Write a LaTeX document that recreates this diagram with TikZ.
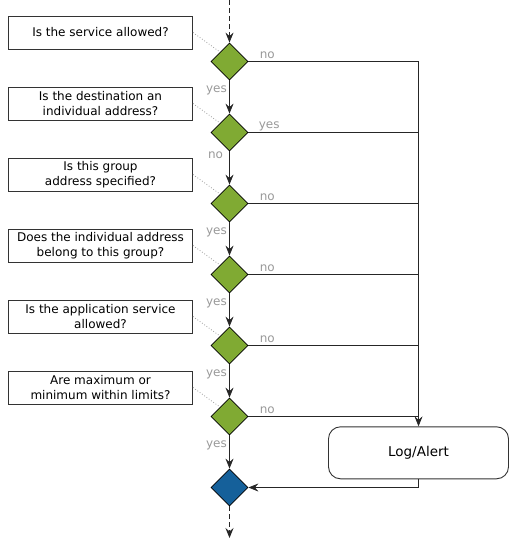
\documentclass[tikz,border=0pt]{standalone}
\usepackage{fontspec}
\setmainfont{DejaVu Sans}
\usetikzlibrary{shapes.geometric,arrows.meta,calc}
\definecolor{dgreen}{HTML}{80AA33}
\definecolor{dblue}{HTML}{15609A}
\definecolor{lblgray}{HTML}{999999}
\definecolor{boxline}{HTML}{333333}
\begin{document}
\begin{tikzpicture}[x=1bp,y=-1bp,
  dec/.style={diamond, draw=black, line width=0.8bp, fill=dgreen, minimum width=37bp, minimum height=37bp, inner sep=0pt, aspect=1},
  qbox/.style={rectangle, draw=boxline, line width=0.9bp, minimum width=184bp, minimum height=33bp, inner sep=1bp, align=center, font=\fontsize{12bp}{14.7bp}\selectfont},
  logbox/.style={rectangle, rounded corners=12bp, draw=boxline, line width=0.9bp, minimum width=180bp, minimum height=52bp, font=\fontsize{13.5bp}{16bp}\selectfont},
  conn/.style={draw=black!85, line width=0.8bp},
  arr/.style={conn, -{Stealth[length=10bp,width=8bp,inset=3.5bp]}},
  darr/.style={arr, dash pattern=on 5bp off 3bp},
  dotline/.style={draw=lblgray, line width=0.8bp, dotted},
  lbl/.style={text=lblgray, inner sep=0pt, font=\fontsize{12bp}{14bp}\selectfont}
]
\useasboundingbox (0,0) rectangle (509,539);
% decisions
\node[dec] (d1) at (229.5,61.5) {};
\node[dec] (d2) at (229.5,132.5) {};
\node[dec] (d3) at (229.5,203.5) {};
\node[dec] (d4) at (229.5,274.5) {};
\node[dec] (d5) at (229.5,345.5) {};
\node[dec] (d6) at (229.5,416.5) {};
\node[dec, fill=dblue] (d7) at (229.5,487.5) {};
% questions
\node[qbox] (q1) at (100.5,32.5) {Is the service allowed?};
\node[qbox] (q2) at (100.5,103.5) {Is the destination an\\individual address?};
\node[qbox] (q3) at (100.5,174.5) {Is this group\\address specified?};
\node[qbox] (q4) at (100.5,245.5) {Does the individual address\\belong to this group?};
\node[qbox] (q5) at (100.5,316.5) {Is the application service\\allowed?};
\node[qbox] (q6) at (100.5,387.5) {Are maximum or\\minimum within limits?};
% log
\node[logbox] (log) at (418.5,452.8) {Log/Alert};
% coordinates
\coordinate (top) at (229.5,0);
\coordinate (bot) at (229.5,538);
\coordinate (r1) at (418.5,61.5);
\coordinate (r2) at (418.5,132.5);
\coordinate (r3) at (418.5,203.5);
\coordinate (r4) at (418.5,274.5);
\coordinate (r5) at (418.5,345.5);
\coordinate (r6) at (418.5,416.5);
% dotted links
\draw[dotline] (q1.east) -- (d1.north west);
\draw[dotline] (q2.east) -- (d2.north west);
\draw[dotline] (q3.east) -- (d3.north west);
\draw[dotline] (q4.east) -- (d4.north west);
\draw[dotline] (q5.east) -- (d5.north west);
\draw[dotline] (q6.east) -- (d6.north west);
% main flow
\draw[darr] (top) -- (d1.north);
\draw[arr] (d1.south) -- node[lbl, pos=0, anchor=base, xshift=-13bp, yshift=-12.5bp] (ly1) {yes} (d2.north);
\draw[arr] (d2.south) -- node[lbl, pos=0, anchor=base, xshift=-14bp, yshift=-7.5bp] (ly2) {no} (d3.north);
\draw[arr] (d3.south) -- node[lbl, pos=0, anchor=base, xshift=-13bp, yshift=-12bp] (ly3) {yes} (d4.north);
\draw[arr] (d4.south) -- node[lbl, pos=0, anchor=base, xshift=-13bp, yshift=-12bp] (ly4) {yes} (d5.north);
\draw[arr] (d5.south) -- node[lbl, pos=0, anchor=base, xshift=-13bp, yshift=-12bp] (ly5) {yes} (d6.north);
\draw[arr] (d6.south) -- node[lbl, pos=0, anchor=base, xshift=-13bp, yshift=-12bp] (ly6) {yes} (d7.north);
\draw[darr] (d7.south) -- (bot);
% exits
\draw[conn] (d1.east) -- node[lbl, pos=0, anchor=base west, xshift=11bp, yshift=3bp] (ln1) {no} (r1);
\draw[conn] (d2.east) -- node[lbl, pos=0, anchor=base west, xshift=10bp, yshift=4bp] (ln2) {yes} (r2);
\draw[conn] (d3.east) -- node[lbl, pos=0, anchor=base west, xshift=11bp, yshift=3bp] (ln3) {no} (r3);
\draw[conn] (d4.east) -- node[lbl, pos=0, anchor=base west, xshift=11bp, yshift=3bp] (ln4) {no} (r4);
\draw[conn] (d5.east) -- node[lbl, pos=0, anchor=base west, xshift=11bp, yshift=3bp] (ln5) {no} (r5);
\draw[conn] (d6.east) -- node[lbl, pos=0, anchor=base west, xshift=11bp, yshift=3bp] (ln6) {no} (r6);
\draw[arr] (r1) -- (r1 |- log.north);
\draw[arr] (log.south) |- (d7.east);
\end{tikzpicture}
\end{document}
